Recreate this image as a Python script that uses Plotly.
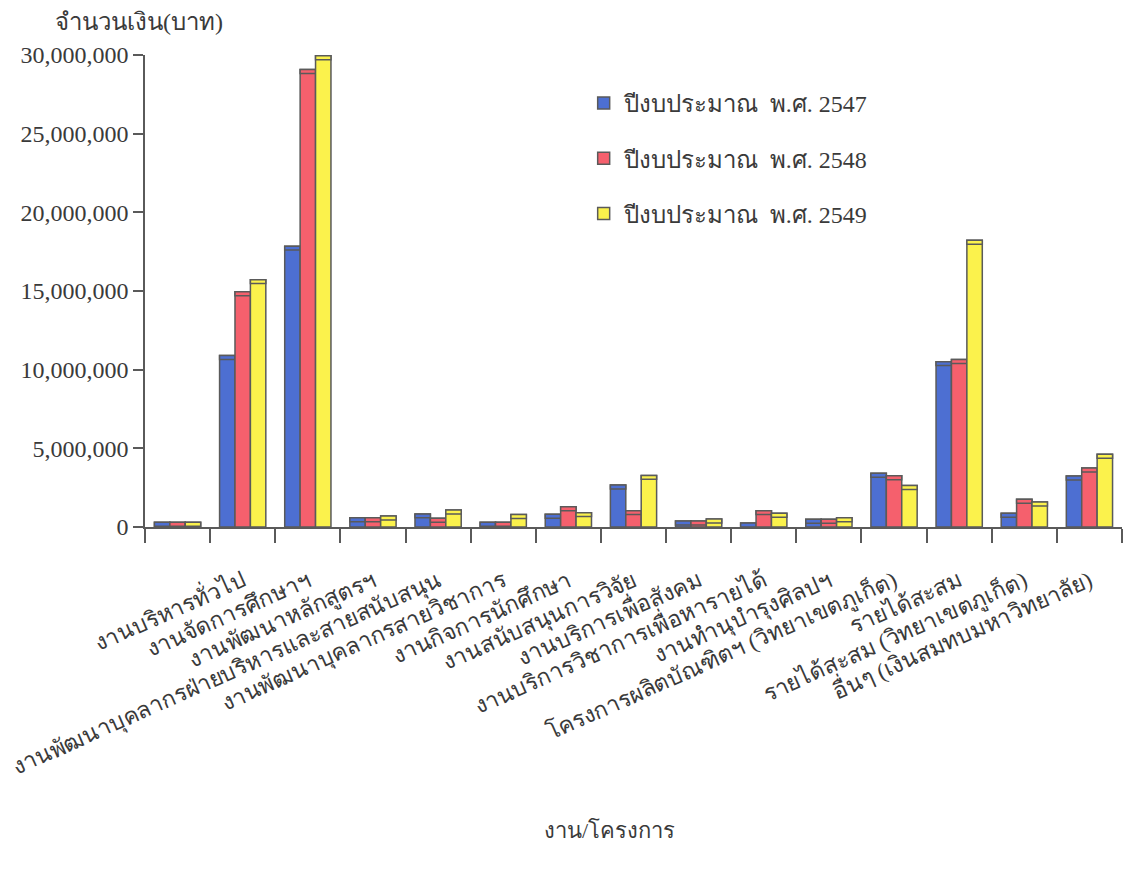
import plotly.graph_objects as go

categories = [
    "\u200b",
    "งานบริหารทั่วไป",
    "งานจัดการศึกษาฯ",
    "งานพัฒนาหลักสูตรฯ",
    "งานพัฒนาบุคลากรฝ่ายบริหารและสายสนับสนุน",
    "งานพัฒนาบุคลากรสายวิชาการ",
    "งานกิจการนักศึกษา",
    "งานสนับสนุนการวิจัย",
    "งานบริการเพื่อสังคม",
    "งานบริการวิชาการเพื่อหารายได้",
    "งานทำนุบำรุงศิลปฯ",
    "โครงการผลิตบัณฑิตฯ (วิทยาเขตภูเก็ต)",
    "รายได้สะสม",
    "รายได้สะสม (วิทยาเขตภูเก็ต)",
    "อื่นๆ (เงินสมทบมหาวิทยาลัย)",
]

series_names = ["ปีงบประมาณ  พ.ศ. 2547", "ปีงบประมาณ  พ.ศ. 2548", "ปีงบประมาณ  พ.ศ. 2549"]

budget_2547 = [300000, 10900000, 17850000, 590000, 830000, 300000, 810000, 2670000,
               380000, 250000, 490000, 3410000, 10510000, 870000, 3240000]
budget_2548 = [300000, 14950000, 29080000, 590000, 550000, 300000, 1290000, 1040000,
               380000, 1040000, 490000, 3260000, 10640000, 1760000, 3750000]
budget_2549 = [300000, 15720000, 29950000, 700000, 1080000, 790000, 910000, 3280000,
               510000, 870000, 590000, 2630000, 18220000, 1590000, 4620000]

y_ticks = [0, 5000000, 10000000, 15000000, 20000000, 25000000, 30000000]
y_tick_text = ["0", "5,000,000", "10,000,000", "15,000,000", "20,000,000", "25,000,000", "30,000,000"]

colors = ["#4d6fd2", "#f5606d", "#fbf24c"]
outline = "#5a5a5a"
font_fam = "Liberation Serif, Tlwg Typo, Norasi, Garuda, serif"
text_col = "#3a3a3a"

cap = 250000

fig = go.Figure()
for i, (name, vals) in enumerate(zip(series_names, [budget_2547, budget_2548, budget_2549])):
    fig.add_trace(go.Bar(
        x=categories, y=vals, name=name, offsetgroup=str(i), legendgroup=str(i),
        marker=dict(color=colors[i], line=dict(color=outline, width=1.5)),
    ))
    fig.add_trace(go.Bar(
        x=categories, y=[cap] * len(vals), base=[v - cap for v in vals],
        offsetgroup=str(i), showlegend=False, hoverinfo="skip",
        marker=dict(color=colors[i], line=dict(color=outline, width=1.5)),
    ))

fig.update_layout(
    width=1132, height=870,
    margin=dict(l=137, r=18, t=47, b=351),
    paper_bgcolor="white", plot_bgcolor="white",
    barmode="group", bargap=0.29, bargroupgap=0,
    font=dict(family=font_fam, size=20, color=text_col),
    showlegend=True,
    legend=dict(x=0.449, y=0.945, xanchor="left", yanchor="top",
                font=dict(family=font_fam, size=24, color=text_col),
                tracegroupgap=21, bgcolor="rgba(0,0,0,0)"),
    xaxis=dict(
        type="category", tickson="boundaries", ticks="outside", ticklen=14,
        tickcolor=outline, tickwidth=1.5, automargin=False,
        showline=True, linecolor=outline, linewidth=1.5, showgrid=False,
        tickangle=-24, tickfont=dict(family=font_fam, size=23, color=text_col),
        ticklabelstandoff=30,
    ),
    yaxis=dict(
        range=[0, 30000000], tickvals=y_ticks, ticktext=y_tick_text, automargin=False,
        ticks="outside", ticklen=10, tickcolor=outline, tickwidth=1.5,
        showline=True, linecolor=outline, linewidth=1.5, showgrid=False, zeroline=False,
        tickfont=dict(family=font_fam, size=24, color=text_col),
    ),
    annotations=[
        dict(text="จำนวนเงิน(บาท)", xref="paper", yref="paper", x=-0.094, y=1.07,
             xanchor="left", yanchor="middle", showarrow=False,
             font=dict(family=font_fam, size=24, color=text_col)),
        dict(text="งาน/โครงการ", xref="paper", yref="paper", x=0.475, y=-0.642,
             xanchor="center", yanchor="middle", showarrow=False,
             font=dict(family=font_fam, size=22, color=text_col)),
    ],
)

fig.write_html("out.html")
